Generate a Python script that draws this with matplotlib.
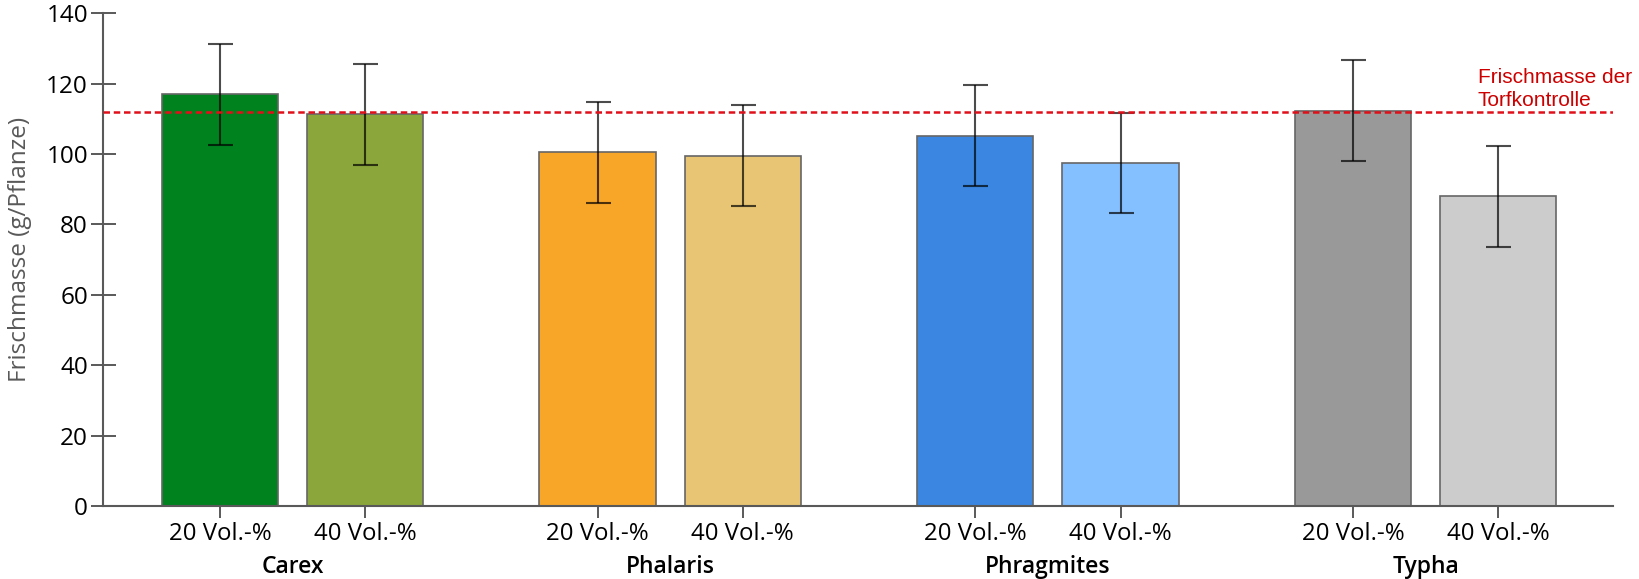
import matplotlib
matplotlib.use("Agg")
import matplotlib.pyplot as plt
import matplotlib.transforms as mtransforms

# Frischmasse je Pflanze, Mittelwert und Standardabweichung
species = ["Carex", "Phalaris", "Phragmites", "Typha"]
doses = ["20 Vol.-%", "40 Vol.-%"]
means = [117.0, 111.3, 100.5, 99.6, 105.2, 97.6, 112.3, 88.0]
errors = [14.4, 14.3, 14.3, 14.3, 14.3, 14.2, 14.3, 14.3]
control = 111.9
colors = ["#00821F", "#8BA63B", "#F8A628", "#E8C574",
          "#3A86E1", "#84BFFF", "#999999", "#CCCCCC"]

group_step = 2.6
positions = []
for g in range(len(species)):
    for d in range(len(doses)):
        positions.append(g * group_step + d)
tick_labels = doses * len(species)

fig = plt.figure(figsize=(16.39, 5.79), dpi=100)
ax = fig.add_axes([0.063, 0.126, 0.9213, 0.851])

ax.bar(positions, means, width=0.8, color=colors,
       edgecolor="#666666", linewidth=1.2, zorder=2)
ax.errorbar(positions, means, yerr=errors, fmt="none",
            ecolor=(0, 0, 0, 0.7), elinewidth=1.5, capsize=9,
            capthick=1.5, zorder=3)

ax.axhline(control, color="#E0101A", lw=1.8, ls=(0, (2.6, 1.5)), zorder=4)
ax.text(8.658, 124.6, "Frischmasse der\nTorfkontrolle", color="#CC0000",
        fontsize=15, family="Liberation Sans", va="top", ha="left",
        linespacing=1.3)

ax.set_xlim(-0.803, 9.592)
ax.set_ylim(0, 140)
ax.set_yticks(range(0, 141, 20))
ax.set_xticks(positions)
ax.set_xticklabels(tick_labels)

for side in ["top", "right"]:
    ax.spines[side].set_visible(False)
for side in ["left", "bottom"]:
    ax.spines[side].set_color("#595959")
    ax.spines[side].set_linewidth(1.5)

ax.tick_params(axis="y", direction="inout", length=18, width=1.4,
               color="#595959", labelsize=17.5, pad=2)
ax.tick_params(axis="x", direction="out", length=8.6, width=1.4,
               color="#595959", labelsize=17.3, pad=3)
for lab in ax.get_xticklabels() + ax.get_yticklabels():
    lab.set_family("Open Sans")

ax.set_ylabel("Frischmasse (g/Pflanze)", fontsize=17.5, color="#595959",
              family="Open Sans", labelpad=0)
ax.yaxis.set_label_coords(-0.047, 0.52)

# Artnamen unter den Gruppen
trans = mtransforms.blended_transform_factory(ax.transData, ax.transAxes)
for g, name in enumerate(species):
    x = g * group_step + 0.5
    ax.text(x, -0.136, name, transform=trans, ha="center", va="baseline",
            fontsize=16.5, family="Open Sans", fontweight="semibold")

fig.savefig("out.png", dpi=100)
